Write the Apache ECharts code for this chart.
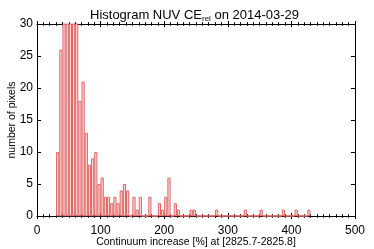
<!DOCTYPE html>
<html><head><meta charset="utf-8">
<script src="https://cdn.jsdelivr.net/npm/echarts@6/dist/echarts.min.js"></script>
<style>html,body{margin:0;padding:0;background:#fff}#c{width:374px;height:249px}</style>
</head><body><div id="c"></div>
<script>
// Histogram bins (left edge of each 5-unit bin) and counts
const binWidth = 5;
const binStarts = [30,35,40,45,50,55,60,65,70,75,80,85,90,95,100,105,110,115,120,125,130,135,140,145,150,155,160,165,170,175,180,185,190,195,200,205,210,215,220,225,230,235,240,245,250,255,260,265,270,275,280,285,290,295,300,305,310,315,320,325,330,335,340,345,350,355,360,365,370,375,380,385,390,395,400,405,410,415,420,425];
const counts    = [10,26,38,44,41,36,32,18,21,13,8,9,10,5,6,3,3,2,3,2,4,5,4,0,3,1,3,0,0,3,0,0,2,1,3,6,0,2,1,0,0,0,1,1,0,0,0,0,0,0,1,0,0,0,0,0,0,0,0,1,0,0,0,0,1,0,0,0,0,0,0,1,0,0,0,1,0,0,0,1];
const xTicks = [0,100,200,300,400,500];
const yTicks = [0,5,10,15,20,25,30];

const font = 'Liberation Sans, Arial, Helvetica, sans-serif';
const chart = echarts.init(document.getElementById('c'), null, {renderer:'canvas'});
const data = binStarts.map((s,i)=>[s + binWidth/2, counts[i]]);
const baseline = [[binStarts[0], 0], [binStarts[binStarts.length-1] + binWidth, 0]];

function xAx(pos, inside, main){
  return {
    type:'value', position:pos, min:xTicks[0], max:xTicks[xTicks.length-1], interval:100,
    axisLine:{show:main, onZero:false, lineStyle:{color:'#000', width:1}},
    axisTick:{show:true, inside:inside, length:3, lineStyle:{color:'#000'}},
    minorTick:{show:true, splitNumber:10, length:1.8, lineStyle:{color:'#000'}},
    axisLabel:{show: main && pos==='bottom', color:'#000', fontFamily:font, fontSize:12, margin:9},
    splitLine:{show:false},
    name: (main && pos==='bottom') ? 'Continuum increase [%] at [2825.7-2825.8]' : '',
    nameLocation:'middle', nameGap:21, nameMoveOverlap:false,
    nameTextStyle:{color:'#000', fontFamily:font, fontSize:10.5}
  };
}
function yAx(pos){
  return {
    type:'value', position:pos, min:yTicks[0], max:yTicks[yTicks.length-1], interval:5,
    axisLine:{show:true, onZero:false, lineStyle:{color:'#000', width:1}},
    axisTick:{show:true, inside:true, length:4, lineStyle:{color:'#000'}},
    axisLabel:{show: pos==='left', color:'#000', fontFamily:font, fontSize:12, margin:4},
    splitLine:{show:false},
    name: pos==='left' ? 'number of pixels' : '',
    nameLocation:'middle', nameGap:19, nameRotate:90, nameMoveOverlap:false,
    nameTextStyle:{color:'#000', fontFamily:font, fontSize:10.5}
  };
}

chart.setOption({
  animation:false,
  backgroundColor:'#fff',
  title:{
    text:'{a|Histogram NUV CE}{s|rel}{a| on 2014-03-29}',
    left:85, top:2,
    textStyle:{
      fontWeight:'normal',
      rich:{
        a:{fontFamily:font, fontSize:13, fontWeight:'normal', color:'#000', lineHeight:16, verticalAlign:'middle'},
        s:{fontFamily:font, fontSize:8, fontWeight:'normal', color:'#000', lineHeight:10, verticalAlign:'bottom'}
      }
    }
  },
  grid:{left:37, right:19, top:24, bottom:33, containLabel:false, outerBoundsMode:'none'},
  xAxis:[xAx('bottom', false, true), xAx('bottom', true, false), xAx('top', false, true), xAx('top', true, false)],
  yAxis:[yAx('left'), yAx('right')],
  series:[{
    type:'bar', xAxisIndex:0, yAxisIndex:0, data:data, barWidth:'100%', clip:true,
    itemStyle:{color:'#fadada', borderColor:'#e06464', borderWidth:1},
    emphasis:{disabled:true}
  },{
    type:'line', xAxisIndex:0, yAxisIndex:0, data:baseline, symbol:'none', z:3,
    lineStyle:{color:'#e06464', width:1}, emphasis:{disabled:true}
  }]
});
</script></body></html>
